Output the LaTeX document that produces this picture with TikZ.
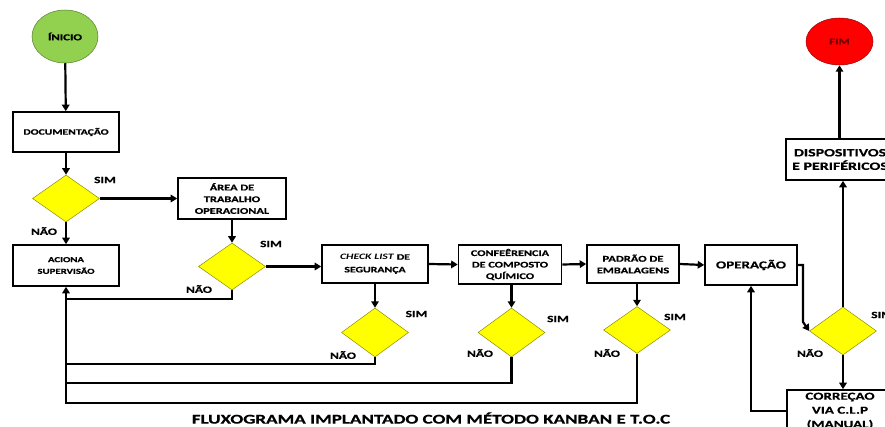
\documentclass[tikz,border=0pt]{standalone}
\usepackage{fontspec}
\usetikzlibrary{shapes.geometric,arrows.meta}
\newfontfamily\flowfamily[FakeStretch=1.42, BoldFeatures={FakeBold=0.6}]{Carlito}
\newcommand\flowsize[2]{\fontsize{#1}{#2}\selectfont}
\newcommand\flowtextstyle{\flowfamily\bfseries}
\definecolor{startgreen}{RGB}{146,208,80}
\definecolor{endred}{RGB}{255,0,0}
\definecolor{testyellow}{RGB}{255,255,0}
\tikzset{
  flowbox/.style 2 args={draw, line width=1.6pt, fill=white, align=center, inner sep=1pt,
    font=\flowtextstyle\flowsize{#1}{#2}},
  flowtest/.style={diamond, draw=testyellow!55!black, line width=0.5pt, fill=testyellow,
    inner sep=0pt, minimum width=67pt, minimum height=47pt},
  flowend/.style={ellipse, line width=0.5pt, inner sep=0pt, font=\flowtextstyle\flowsize{9}{10}},
  flowlabel/.style={font=\flowtextstyle\flowsize{9.5}{10}, inner sep=0pt},
  flowline/.style={line width=2.2pt},
  flowarrow/.style={flowline, -{Triangle[length=6.5pt,width=7.5pt]}},
}

\begin{document}
\begin{tikzpicture}[x=1pt, y=-1pt]
  \useasboundingbox (0,0) rectangle (885,427);
  \clip (0,0) rectangle (885,427);

  \node[flowend, draw=startgreen!60!black, fill=startgreen, minimum width=66pt, minimum height=53pt]
    (inicio) at (65,36.5) {ÍNICIO};
  \node[flowbox={8.2}{10}, minimum width=106pt, minimum height=40pt] (doc) at (66,132) {DOCUMENTAÇÃO};
  \node[flowtest] (d1) at (66,198.5) {};
  \node[flowbox={8.7}{11.7}, minimum width=108pt, minimum height=41pt] (area) at (232,198.5)
    {ÁREA DE\\TRABALHO\\OPERACIONAL};
  \node[flowbox={7.6}{11.7}, minimum width=106pt, minimum height=41pt] (aciona) at (66,265.5)
    {ACIONA\\SUPERVISÃO};
  \node[flowtest] (d2) at (232,266.5) {};
  \node[flowbox={8.3}{12.7}, minimum width=106pt, minimum height=38pt] (check) at (375,264)
    {\textit{CHECK LIST} DE\\SEGURANÇA};
  \node[flowbox={8.6}{11.5}, minimum width=103pt, minimum height=39pt] (conf) at (510,264.5)
    {CONFEÊRENCIA\\DE COMPOSTO\\QUÍMICO};
  \node[flowbox={8.8}{11.7}, minimum width=92pt, minimum height=38pt] (padrao) at (633,264)
    {PADRÃO DE\\EMBALAGENS};
  \node[flowbox={10.6}{12}, minimum width=92pt, minimum height=40pt] (oper) at (751,265) {OPERAÇÃO};
  \node[flowtest, minimum height=49pt] (d3) at (375,332.5) {};
  \node[flowtest, minimum height=49pt] (d4) at (511.5,332.5) {};
  \node[flowtest] (d5) at (637,330) {};
  \node[flowtest, minimum height=48pt] (d6) at (843,331) {};
  \node[flowbox={11.2}{13.5}, minimum width=108pt, minimum height=41pt] (disp) at (840,159.5)
    {DISPOSITIVOS\\E PERIFÉRICOS};
  \node[flowbox={10.6}{14}, minimum width=106pt, minimum height=42pt] (corr) at (840,411)
    {CORREÇAO\\VIA C.L.P\\(MANUAL)};
  \node[flowend, draw=endred!60!black, fill=endred, text=endred!45!black, minimum width=67pt, minimum height=47pt,
    font=\flowtextstyle\flowsize{9}{10}] (fim) at (839.5,41.5) {FIM};

  \node[flowlabel] (sim1) at (105,180) {SIM};
  \node[flowlabel] (nao1) at (44,231) {NÃO};
  \node[flowlabel] (sim2) at (271,244) {SIM};
  \node[flowlabel] (nao2) at (199,289) {NÃO};
  \node[flowlabel] (sim3) at (416.5,314) {SIM};
  \node[flowlabel] (nao3) at (343,355) {NÃO};
  \node[flowlabel] (sim4) at (558,319) {SIM};
  \node[flowlabel] (nao4) at (480,353) {NÃO};
  \node[flowlabel] (sim5) at (675,317) {SIM};
  \node[flowlabel] (nao5) at (607,353) {NÃO};
  \node[flowlabel, anchor=west] (sim6) at (871,315) {SIM};
  \node[flowlabel] (nao6) at (810,353) {NÃO};

  \node[font=\flowtextstyle\flowsize{13.4}{15}, inner sep=0pt] (title) at (431,418)
    {FLUXOGRAMA IMPLANTADO COM MÉTODO KANBAN E T.O.C};

  \coordinate (back0) at (66,299);
  \coordinate (back1) at (66,364);
  \coordinate (back2) at (66,383);
  \coordinate (back3) at (66,403);
  \coordinate (operhook) at (803,322);
  \coordinate (corrin) at (787,411);

  \draw[flowarrow] (inicio) -- (doc);
  \draw[flowarrow] (doc) -- (d1);
  \draw[flowarrow] (d1.east) -- (area.west);
  \draw[flowarrow] (d1.south) -- (aciona.north);
  \draw[flowarrow] (area.south) -- (d2.north);
  \draw[flowarrow] (d2.east) -- (d2.east -| check.west);
  \draw[flowarrow] (check.east) -- (conf.west);
  \draw[flowarrow] (conf.east) -- (padrao.west);
  \draw[flowarrow] (padrao.east) -- (oper.west);
  \draw[flowarrow] (check.south) -- (d3.north);
  \draw[flowarrow] (conf.south -| d4.north) -- (d4.north);
  \draw[flowarrow] (padrao.south -| d5.north) -- (d5.north);
  \draw[flowline] (d2.south) |- (back0);
  \draw[flowline] (d3.south) |- (back1);
  \draw[flowline] (d4.south) |- (back2);
  \draw[flowarrow] (d5.south) |- (back3) -- (aciona.south);
  \draw[flowarrow] (oper.east) -| (operhook) -- (d6.west);
  \draw[flowarrow] (d6.north) -- (d6.north |- disp.south);
  \draw[flowarrow] (disp.north -| fim.south) -- (fim.south);
  \draw[flowarrow] (d6.south) -- (d6.south |- corr.north);
  \draw[flowarrow] (corrin) -| (oper.south);
\end{tikzpicture}
\end{document}
